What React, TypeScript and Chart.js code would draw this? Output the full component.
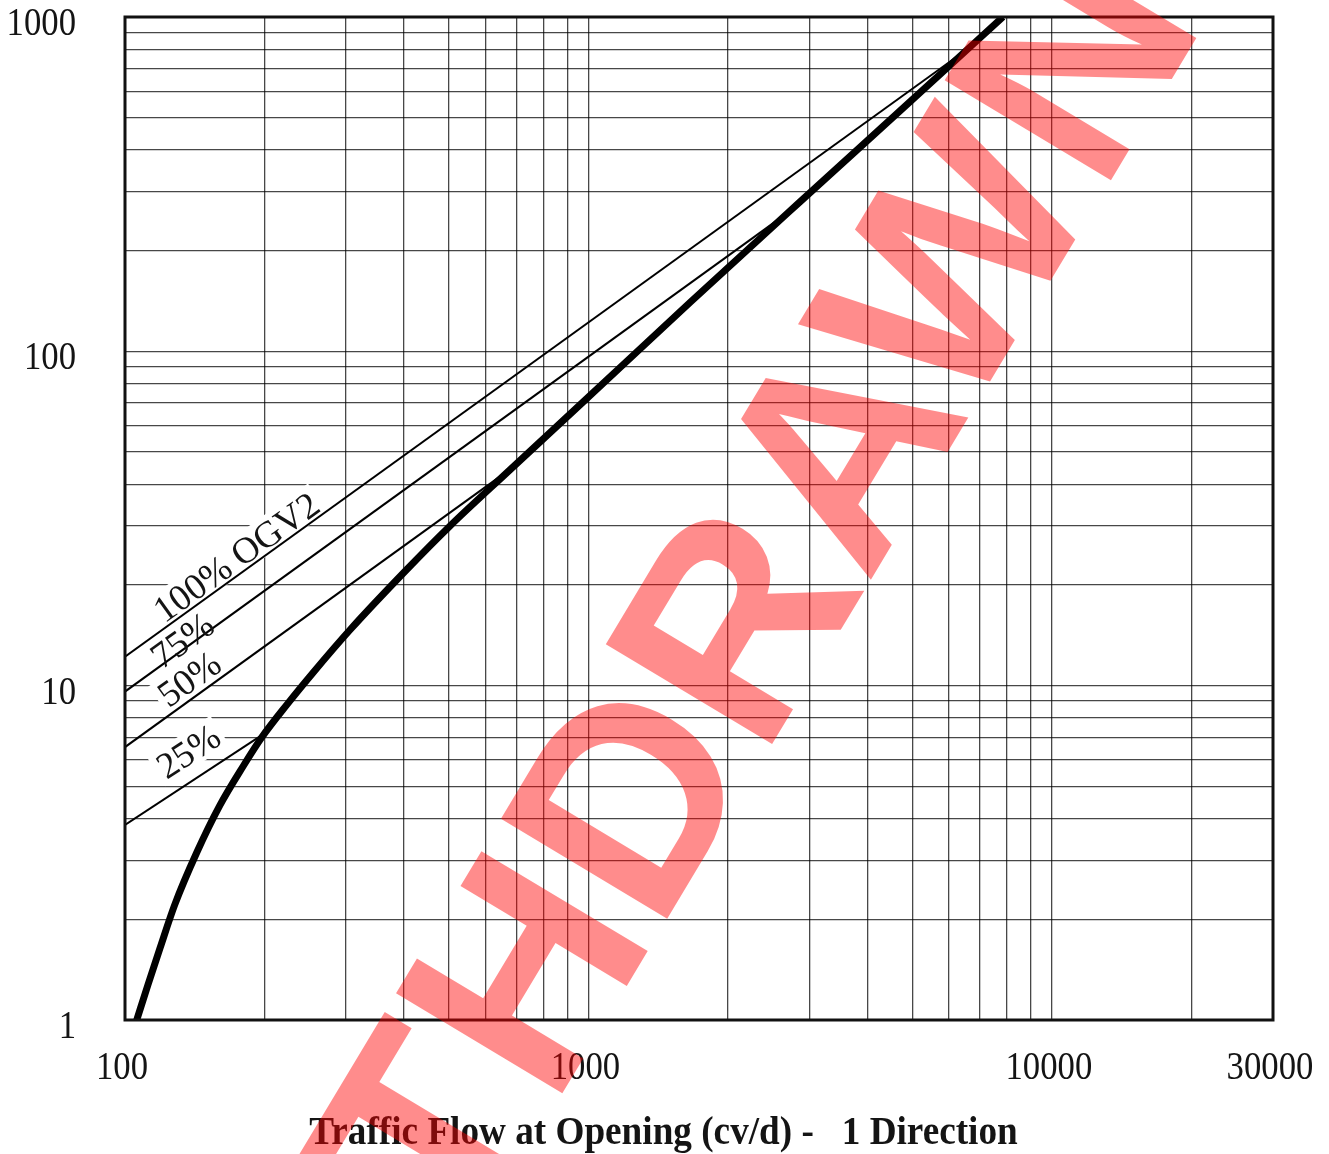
import { useEffect, useRef } from 'react';
import { Chart, registerables } from 'chart.js';

Chart.register(...registerables);

// Grid lines of the log-log paper (traffic flow on x, design life on y)
const xGridValues = [100, 200, 300, 400, 500, 600, 700, 800, 900, 1000, 2000, 3000, 4000, 5000, 6000, 7000, 8000, 9000, 10000, 20000, 30000];
const yGridValues = [1, 2, 3, 4, 5, 6, 7, 8, 9, 10, 20, 30, 40, 50, 60, 70, 80, 90, 100, 200, 300, 400, 500, 600, 700, 800, 900, 1000];
const xTickLabels = [100, 1000, 10000, 30000];
const yTickLabels = [1, 10, 100, 1000];

// Heavy design curve
const curveX = [106, 112, 119, 128, 143, 160, 180, 197.5, 224, 254, 306, 406, 502, 677, 973, 1656, 2860, 4965, 7840];
const curveY = [1.0, 1.27, 1.64, 2.21, 3.18, 4.37, 5.75, 7.02, 8.81, 10.9, 14.7, 22.3, 30.0, 44.2, 70.5, 140, 280, 561, 1000];

// OGV2 proportion lines (start, and end where they meet the heavy curve)
const ogv100X = [100, 6900];
const ogv100Y = [12.2, 842];
const ogv75X = [100, 2860];
const ogv75Y = [9.6, 276];
const ogv50X = [100, 684];
const ogv50Y = [6.55, 44.8];
const ogv25X = [100, 197];
const ogv25Y = [3.83, 7.1];

// Line captions, anchored at their centre in data units
const captionText = ['100% OGV2', '75%', '50%', '25%'];
const captionX = [173.6, 132.7, 137.4, 136.8];
const captionY = [24.3, 13.7, 10.5, 6.38];

const titleText = 'Traffic Flow at Opening (cv/d) -   1 Direction';
const stampText = 'WITHDRAWN';

const toPoints = (xs: number[], ys: number[]) => xs.map((x, i) => ({ x, y: ys[i] }));

const SERIF = '"Liberation Serif", "Times New Roman", serif';

function drawScaledText(
  ctx: CanvasRenderingContext2D,
  text: string,
  x: number,
  y: number,
  font: string,
  align: CanvasTextAlign,
  sx: number,
) {
  ctx.save();
  ctx.translate(x, y);
  ctx.scale(sx, 1);
  ctx.font = font;
  ctx.textAlign = align;
  ctx.textBaseline = 'alphabetic';
  ctx.fillText(text, 0, 0);
  ctx.restore();
}

const captionFont = `37px ${SERIF}`;
const captionSize = 37;

function captionGeometry(chart: any, i: number) {
  const xs = chart.scales.x;
  const ys = chart.scales.y;
  const ds = chart.data.datasets[i + 1].data as { x: number; y: number }[];
  const a = ds[0];
  const b = ds[ds.length - 1];
  const angle = Math.atan2(
    ys.getPixelForValue(b.y) - ys.getPixelForValue(a.y),
    xs.getPixelForValue(b.x) - xs.getPixelForValue(a.x),
  );
  return {
    cx: xs.getPixelForValue(captionX[i]),
    cy: ys.getPixelForValue(captionY[i]),
    angle,
  };
}

const paperPlugin = {
  id: 'paper',
  beforeDatasetsDraw(chart: any) {
    // white knock-outs behind the captions so the grid does not run through them
    const ctx = chart.ctx as CanvasRenderingContext2D;
    ctx.save();
    ctx.font = captionFont;
    captionText.forEach((t, i) => {
      const { cx, cy, angle } = captionGeometry(chart, i);
      const w = ctx.measureText(t).width;
      const h = captionSize * 0.72;
      ctx.save();
      ctx.translate(cx, cy);
      ctx.rotate(angle);
      ctx.fillStyle = '#ffffff';
      ctx.fillRect(-w / 2 - 4, -h / 2 - 4, w + 8, h + 8);
      ctx.restore();
    });
    ctx.restore();
  },
  afterDatasetsDraw(chart: any) {
    const ctx = chart.ctx as CanvasRenderingContext2D;
    const area = chart.chartArea;
    ctx.save();
    ctx.fillStyle = '#141414';
    captionText.forEach((t, i) => {
      const { cx, cy, angle } = captionGeometry(chart, i);
      ctx.save();
      ctx.translate(cx, cy);
      ctx.rotate(angle);
      ctx.font = captionFont;
      ctx.textAlign = 'center';
      ctx.textBaseline = 'alphabetic';
      ctx.fillText(t, 0, captionSize * 0.34);
      ctx.restore();
    });
    ctx.strokeStyle = '#111';
    ctx.lineWidth = 3;
    ctx.strokeRect(area.left, area.top, area.right - area.left, area.bottom - area.top);
    ctx.restore();
  },
  afterDraw(chart: any) {
    const ctx = chart.ctx as CanvasRenderingContext2D;
    const area = chart.chartArea;
    const xs = chart.scales.x;
    const ys = chart.scales.y;
    ctx.save();
    ctx.fillStyle = '#141414';
    const tickFont = `39px ${SERIF}`;
    yTickLabels.forEach((v) => {
      drawScaledText(ctx, String(v), area.left - 49, ys.getPixelForValue(v) + 18, tickFont, 'right', 0.89);
    });
    xTickLabels.forEach((v) => {
      drawScaledText(ctx, String(v), xs.getPixelForValue(v) - 3, area.bottom + 59, tickFont, 'center', 0.89);
    });
    drawScaledText(ctx, titleText, chart.width / 2 - 1, 1144, `bold 40px ${SERIF}`, 'center', 0.93);

    // red withdrawal stamp across the sheet
    ctx.save();
    ctx.translate(658, 734);
    ctx.rotate((-59 * Math.PI) / 180);
    ctx.font = 'bold 282px "Liberation Sans", Arial, sans-serif';
    ctx.textAlign = 'center';
    ctx.textBaseline = 'alphabetic';
    ctx.fillStyle = 'rgba(255, 0, 0, 0.45)';
    ctx.fillText(stampText, 0, 103);
    ctx.restore();
    ctx.restore();
  },
};

export default function App() {
  const canvasRef = useRef<HTMLCanvasElement>(null);

  useEffect(() => {
    const canvas = canvasRef.current;
    if (!canvas) return;
    const gridColor = 'rgba(0, 0, 0, 0.72)';
    const thin = (label: string, xs: number[], ys: number[]) => ({
      label,
      data: toPoints(xs, ys),
      borderColor: '#000',
      borderWidth: 2,
      pointRadius: 0,
      tension: 0,
      fill: false,
    });
    const chart = new Chart(canvas, {
      type: 'line',
      data: {
        datasets: [
          {
            label: 'Design curve',
            data: toPoints(curveX, curveY),
            borderColor: '#000',
            borderWidth: 7,
            pointRadius: 0,
            cubicInterpolationMode: 'monotone',
            fill: false,
          },
          thin('100% OGV2', ogv100X, ogv100Y),
          thin('75%', ogv75X, ogv75Y),
          thin('50%', ogv50X, ogv50Y),
          thin('25%', ogv25X, ogv25Y),
        ],
      },
      options: {
        animation: false,
        responsive: false,
        devicePixelRatio: 1,
        layout: { padding: { left: 125, right: 56, top: 17, bottom: 134 } },
        plugins: {
          legend: { display: false },
          tooltip: { enabled: false },
          title: { display: false },
        },
        scales: {
          x: {
            type: 'logarithmic',
            min: 100,
            max: 30000,
            afterBuildTicks: (scale: any) => {
              scale.ticks = xGridValues.map((value) => ({ value }));
            },
            afterFit: (scale: any) => {
              scale.height = 0;
            },
            ticks: { display: false },
            border: { display: false },
            grid: { color: gridColor, lineWidth: 1.3, drawTicks: false },
          },
          y: {
            type: 'logarithmic',
            min: 1,
            max: 1000,
            afterBuildTicks: (scale: any) => {
              scale.ticks = yGridValues.map((value) => ({ value }));
            },
            afterFit: (scale: any) => {
              scale.width = 0;
            },
            ticks: { display: false },
            border: { display: false },
            grid: { color: gridColor, lineWidth: 1.3, drawTicks: false },
          },
        },
      },
      plugins: [paperPlugin],
    } as any);
    return () => chart.destroy();
  }, []);

  return (
    <div style={{ position: 'fixed', left: 0, top: 0, width: 1329, height: 1154, background: '#ffffff' }}>
      <canvas ref={canvasRef} width={1329} height={1154} style={{ display: 'block' }} />
    </div>
  );
}
